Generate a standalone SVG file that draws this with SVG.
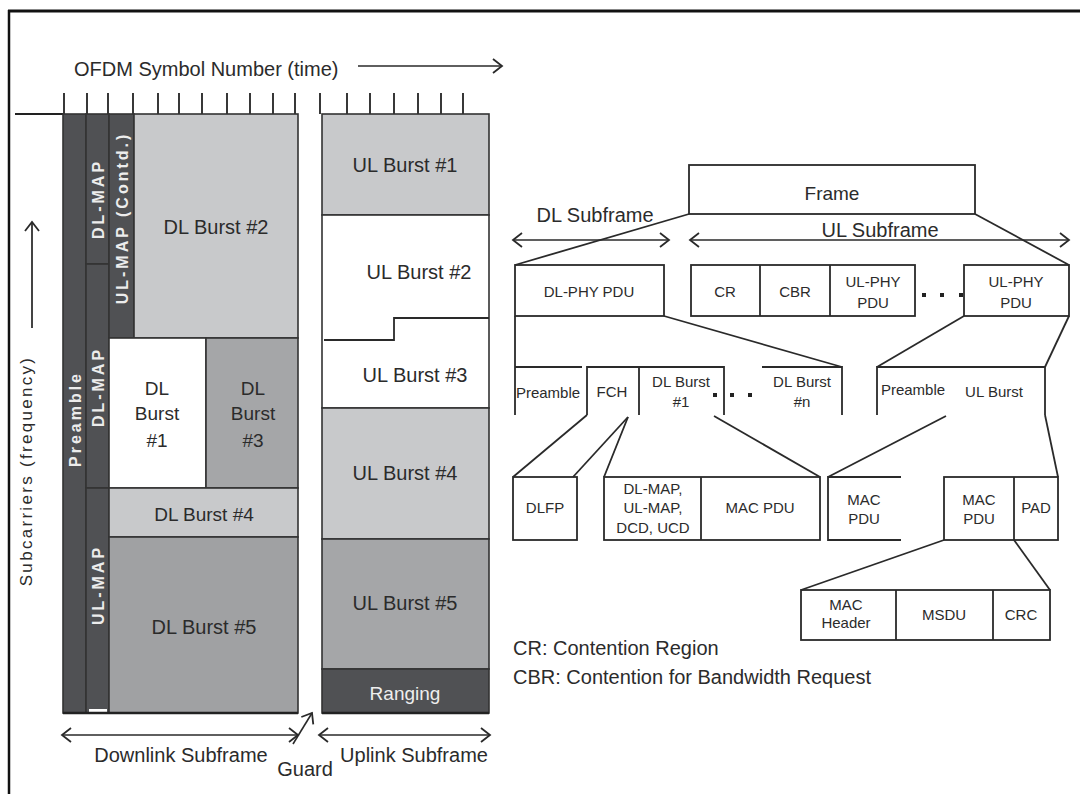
<svg xmlns="http://www.w3.org/2000/svg" width="1080" height="794" viewBox="0 0 1080 794">
<style>
text{font-family:"Liberation Sans",Arial,sans-serif;fill:#2b2b2b}
.t20{font-size:20px}
.t19{font-size:19px}
.t15{font-size:15px}
.mid{text-anchor:middle}
.vl{font-size:16px;font-weight:bold;fill:#ececec;letter-spacing:3px;text-anchor:middle}
.box{stroke:#333;stroke-width:1.6}
.dark{fill:#505154}
.light{fill:#c8c9cb}
.mgray{fill:#a5a6a8}
.white{fill:#fff}
.ln{stroke:#2a2a2a;stroke-width:1.8;fill:none}
.arr{stroke:#2a2a2a;stroke-width:1.6;fill:none;marker-end:url(#chev)}
.arr2{stroke:#2a2a2a;stroke-width:1.6;fill:none;marker-end:url(#chev);marker-start:url(#chevs)}
.rb{fill:#fff;stroke:#2a2a2a;stroke-width:1.8}
.dot{fill:#222}
</style>
<defs>
<marker id="chev" markerUnits="userSpaceOnUse" markerWidth="14" markerHeight="18" refX="11" refY="8" orient="auto">
<path d="M2,1 L11,8 L2,15" fill="none" stroke="#2a2a2a" stroke-width="1.8"/>
</marker>
<marker id="chevs" markerUnits="userSpaceOnUse" markerWidth="14" markerHeight="18" refX="2" refY="8" orient="auto">
<path d="M11,1 L2,8 L11,15" fill="none" stroke="#2a2a2a" stroke-width="1.8"/>
</marker>
</defs>
<rect width="1080" height="794" fill="#fff"/>
<g id="border">
<line x1="8" y1="11" x2="1080" y2="11" stroke="#111" stroke-width="3"/>
<line x1="9" y1="10" x2="9" y2="794" stroke="#111" stroke-width="2.5"/>
</g>
<g id="axis">
<text class="t20" x="74" y="76">OFDM Symbol Number (time)</text>
<line class="arr" x1="358" y1="66" x2="502" y2="66"/>
<line x1="15" y1="114" x2="63" y2="114" stroke="#222" stroke-width="1.8"/>
<g stroke="#222" stroke-width="1.8">
<line x1="64" y1="93" x2="64" y2="114"/><line x1="87" y1="93" x2="87" y2="114"/><line x1="108" y1="93" x2="108" y2="114"/><line x1="133" y1="93" x2="133" y2="114"/><line x1="158" y1="93" x2="158" y2="114"/><line x1="179" y1="93" x2="179" y2="114"/><line x1="202" y1="93" x2="202" y2="114"/><line x1="227" y1="93" x2="227" y2="114"/><line x1="250" y1="93" x2="250" y2="114"/><line x1="273" y1="93" x2="273" y2="114"/><line x1="295" y1="93" x2="295" y2="114"/><line x1="320" y1="93" x2="320" y2="114"/><line x1="347" y1="93" x2="347" y2="114"/><line x1="370" y1="93" x2="370" y2="114"/><line x1="394" y1="93" x2="394" y2="114"/><line x1="418" y1="93" x2="418" y2="114"/><line x1="441" y1="93" x2="441" y2="114"/><line x1="463" y1="93" x2="463" y2="114"/>
</g>
<line x1="32" y1="328" x2="32" y2="222" stroke="#444" stroke-width="2" marker-end="url(#chev)"/>
<text class="mid" font-size="17" letter-spacing="2.3" transform="translate(26,471) rotate(-90)" y="6">Subcarriers (frequency)</text>
</g>
<g id="preamble"><rect class="box dark" x="63" y="114" width="23" height="599"/><text class="vl" transform="translate(75,419) rotate(-90)" y="6">Preamble</text></g>
<g id="dlmap1"><rect class="box dark" x="86" y="114" width="23" height="150"/><text class="vl" transform="translate(98,199) rotate(-90)" y="6">DL-MAP</text></g>
<g id="dlmap2"><rect class="box dark" x="86" y="264" width="23" height="224"/><text class="vl" transform="translate(98,387) rotate(-90)" y="6">DL-MAP</text></g>
<g id="ulmap"><rect class="box dark" x="86" y="488" width="23" height="225"/><rect x="89" y="709" width="18" height="3" fill="#fff"/><text class="vl" transform="translate(98,585) rotate(-90)" y="6">UL-MAP</text></g>
<g id="ulmapc"><rect class="box dark" x="109" y="114" width="25" height="224"/><text class="vl" transform="translate(122,218) rotate(-90)" y="6">UL-MAP (Contd.)</text></g>
<g id="dlb2"><rect class="box light" x="134" y="114" width="164" height="224"/><text class="t20 mid" x="216" y="234">DL Burst #2</text></g>
<g id="dlb1"><rect class="box white" x="109" y="338" width="97" height="150"/><text class="t19 mid" x="157" y="395">DL</text><text class="t19 mid" x="157" y="420">Burst</text><text class="t19 mid" x="157" y="447">#1</text></g>
<g id="dlb3"><rect class="box mgray" x="206" y="338" width="92" height="150"/><text class="t19 mid" x="253" y="395">DL</text><text class="t19 mid" x="253" y="420">Burst</text><text class="t19 mid" x="253" y="447">#3</text></g>
<g id="dlb4"><rect class="box light" x="109" y="488" width="189" height="49"/><text class="t19 mid" x="204" y="521">DL Burst #4</text></g>
<g id="dlb5"><rect class="box" x="109" y="537" width="189" height="176" fill="#a0a1a3"/><text class="t20 mid" x="204" y="634">DL Burst #5</text></g>
<line x1="63" y1="713" x2="298" y2="713" stroke="#222" stroke-width="2.5"/>
<g id="ulb1"><rect class="box light" x="322" y="114" width="167" height="101"/><text class="t20 mid" x="405" y="172">UL Burst #1</text></g>
<g id="ulb23"><rect class="box white" x="322" y="215" width="167" height="193"/><polyline class="ln" points="324,340 394,340 394,318 489,318"/><text class="t20 mid" x="419" y="279">UL Burst #2</text><text class="t20 mid" x="415" y="382">UL Burst #3</text></g>
<g id="ulb4"><rect class="box light" x="322" y="408" width="167" height="131"/><text class="t20 mid" x="405" y="480">UL Burst #4</text></g>
<g id="ulb5"><rect class="box mgray" x="322" y="539" width="167" height="130"/><text class="t20 mid" x="405" y="610">UL Burst #5</text></g>
<g id="ranging"><rect class="box dark" x="322" y="669" width="167" height="44"/><text class="t19 mid" x="405" y="700" style="fill:#eee">Ranging</text></g>
<line x1="322" y1="713" x2="489" y2="713" stroke="#222" stroke-width="2.5"/>
<g id="bottom-labels">
<line class="arr2" x1="62" y1="735" x2="298" y2="735"/>
<line class="arr2" x1="319" y1="735" x2="490" y2="735"/>
<line class="arr" x1="293" y1="744" x2="312" y2="713"/>
<text class="t20 mid" x="181" y="762">Downlink Subframe</text>
<text class="t20 mid" x="305" y="776">Guard</text>
<text class="t20 mid" x="414" y="762">Uplink Subframe</text>
</g>
<g id="frame"><rect class="rb" x="689" y="165" width="286" height="49"/><text class="t19 mid" x="832" y="200">Frame</text></g>
<g id="subframes">
<text class="t20 mid" x="595" y="222">DL Subframe</text>
<text class="t20 mid" x="880" y="237">UL Subframe</text>
<line class="arr2" x1="513" y1="240" x2="669" y2="240"/>
<line class="arr2" x1="690" y1="240" x2="1069" y2="240"/>
</g>
<g id="dlphy"><rect class="rb" x="515" y="265" width="149" height="51"/><text class="t15 mid" x="589" y="297">DL-PHY PDU</text></g>
<g id="ulgroup"><rect class="rb" x="691" y="265" width="224" height="51"/><line class="ln" x1="760" y1="265" x2="760" y2="316"/><line class="ln" x1="830" y1="265" x2="830" y2="316"/>
<text class="t15 mid" x="725" y="297">CR</text><text class="t15 mid" x="795" y="297">CBR</text><text class="t15 mid" x="873" y="287">UL-PHY</text><text class="t15 mid" x="873" y="308">PDU</text></g>
<g id="ulphy"><rect class="rb" x="964" y="265" width="105" height="51"/><text class="t15 mid" x="1016" y="287">UL-PHY</text><text class="t15 mid" x="1016" y="308">PDU</text></g>
<g id="dots1"><rect class="dot" x="922" y="293" width="4" height="4"/><rect class="dot" x="940" y="293" width="4" height="4"/><rect class="dot" x="959" y="293" width="4" height="4"/></g>
<g id="dlbreak">
<path class="ln" d="M515,316 V415 M515,367 H582"/>
<path class="ln" d="M587,415 V367 H724 V415 M639,367 V415"/>
<path class="ln" d="M762,367 H842 V415"/>
<text class="t15 mid" x="548" y="398">Preamble</text>
<text class="t15 mid" x="612" y="397">FCH</text>
<text class="t15 mid" x="681" y="387">DL Burst</text><text class="t15 mid" x="681" y="407">#1</text>
<text class="t15 mid" x="802" y="387">DL Burst</text><text class="t15 mid" x="802" y="407">#n</text>
<rect class="dot" x="713" y="393" width="4" height="4"/><rect class="dot" x="730" y="393" width="4" height="4"/><rect class="dot" x="748" y="393" width="4" height="4"/>
</g>
<g id="ulbreak">
<path class="ln" d="M877,415 V367 H1045 V415"/>
<text class="t15 mid" x="913" y="395">Preamble</text>
<text class="t15 mid" x="994" y="397">UL Burst</text>
</g>
<g id="dlfp"><rect class="rb" x="513" y="477" width="64" height="63"/><text class="t15 mid" x="545" y="513">DLFP</text></g>
<g id="maps"><rect class="rb" x="604" y="477" width="216" height="63"/><line class="ln" x1="701" y1="477" x2="701" y2="540"/>
<text class="t15 mid" x="653" y="494">DL-MAP,</text><text class="t15 mid" x="653" y="513">UL-MAP,</text><text class="t15 mid" x="653" y="533">DCD, UCD</text>
<text class="t15 mid" x="760" y="513">MAC PDU</text></g>
<g id="macpdu1"><path class="ln" d="M901,477 H828 V540 H901"/><text class="t15 mid" x="864" y="505">MAC</text><text class="t15 mid" x="864" y="524">PDU</text></g>
<g id="macpdu2"><rect class="rb" x="944" y="477" width="114" height="63"/><line class="ln" x1="1014" y1="477" x2="1014" y2="540"/>
<text class="t15 mid" x="979" y="505">MAC</text><text class="t15 mid" x="979" y="524">PDU</text><text class="t15 mid" x="1036" y="513">PAD</text></g>
<g id="macframe"><rect class="rb" x="801" y="590" width="249" height="50"/><line class="ln" x1="896" y1="590" x2="896" y2="640"/><line class="ln" x1="993" y1="590" x2="993" y2="640"/>
<text class="t15 mid" x="846" y="610">MAC</text><text class="t15 mid" x="846" y="628">Header</text><text class="t15 mid" x="944" y="620">MSDU</text><text class="t15 mid" x="1021" y="620">CRC</text></g>
<g id="connectors">
<line class="ln" x1="689" y1="214" x2="515" y2="265"/>
<line class="ln" x1="975" y1="214" x2="1069" y2="265"/>
<line class="ln" x1="664" y1="316" x2="842" y2="367"/>
<line class="ln" x1="964" y1="316" x2="877" y2="367"/>
<line class="ln" x1="1069" y1="316" x2="1045" y2="367"/>
<line class="ln" x1="587" y1="415" x2="513" y2="477"/>
<line class="ln" x1="628" y1="417" x2="573" y2="477"/>
<line class="ln" x1="628" y1="417" x2="604" y2="477"/>
<line class="ln" x1="714" y1="416" x2="820" y2="477"/>
<line class="ln" x1="946" y1="416" x2="828" y2="477"/>
<line class="ln" x1="1045" y1="415" x2="1058" y2="477"/>
<line class="ln" x1="944" y1="540" x2="801" y2="590"/>
<line class="ln" x1="1014" y1="540" x2="1050" y2="590"/>
</g>
<g id="legend">
<text class="t20" x="513" y="655">CR: Contention Region</text>
<text class="t20" x="513" y="684">CBR: Contention for Bandwidth Request</text>
</g>
</svg>
